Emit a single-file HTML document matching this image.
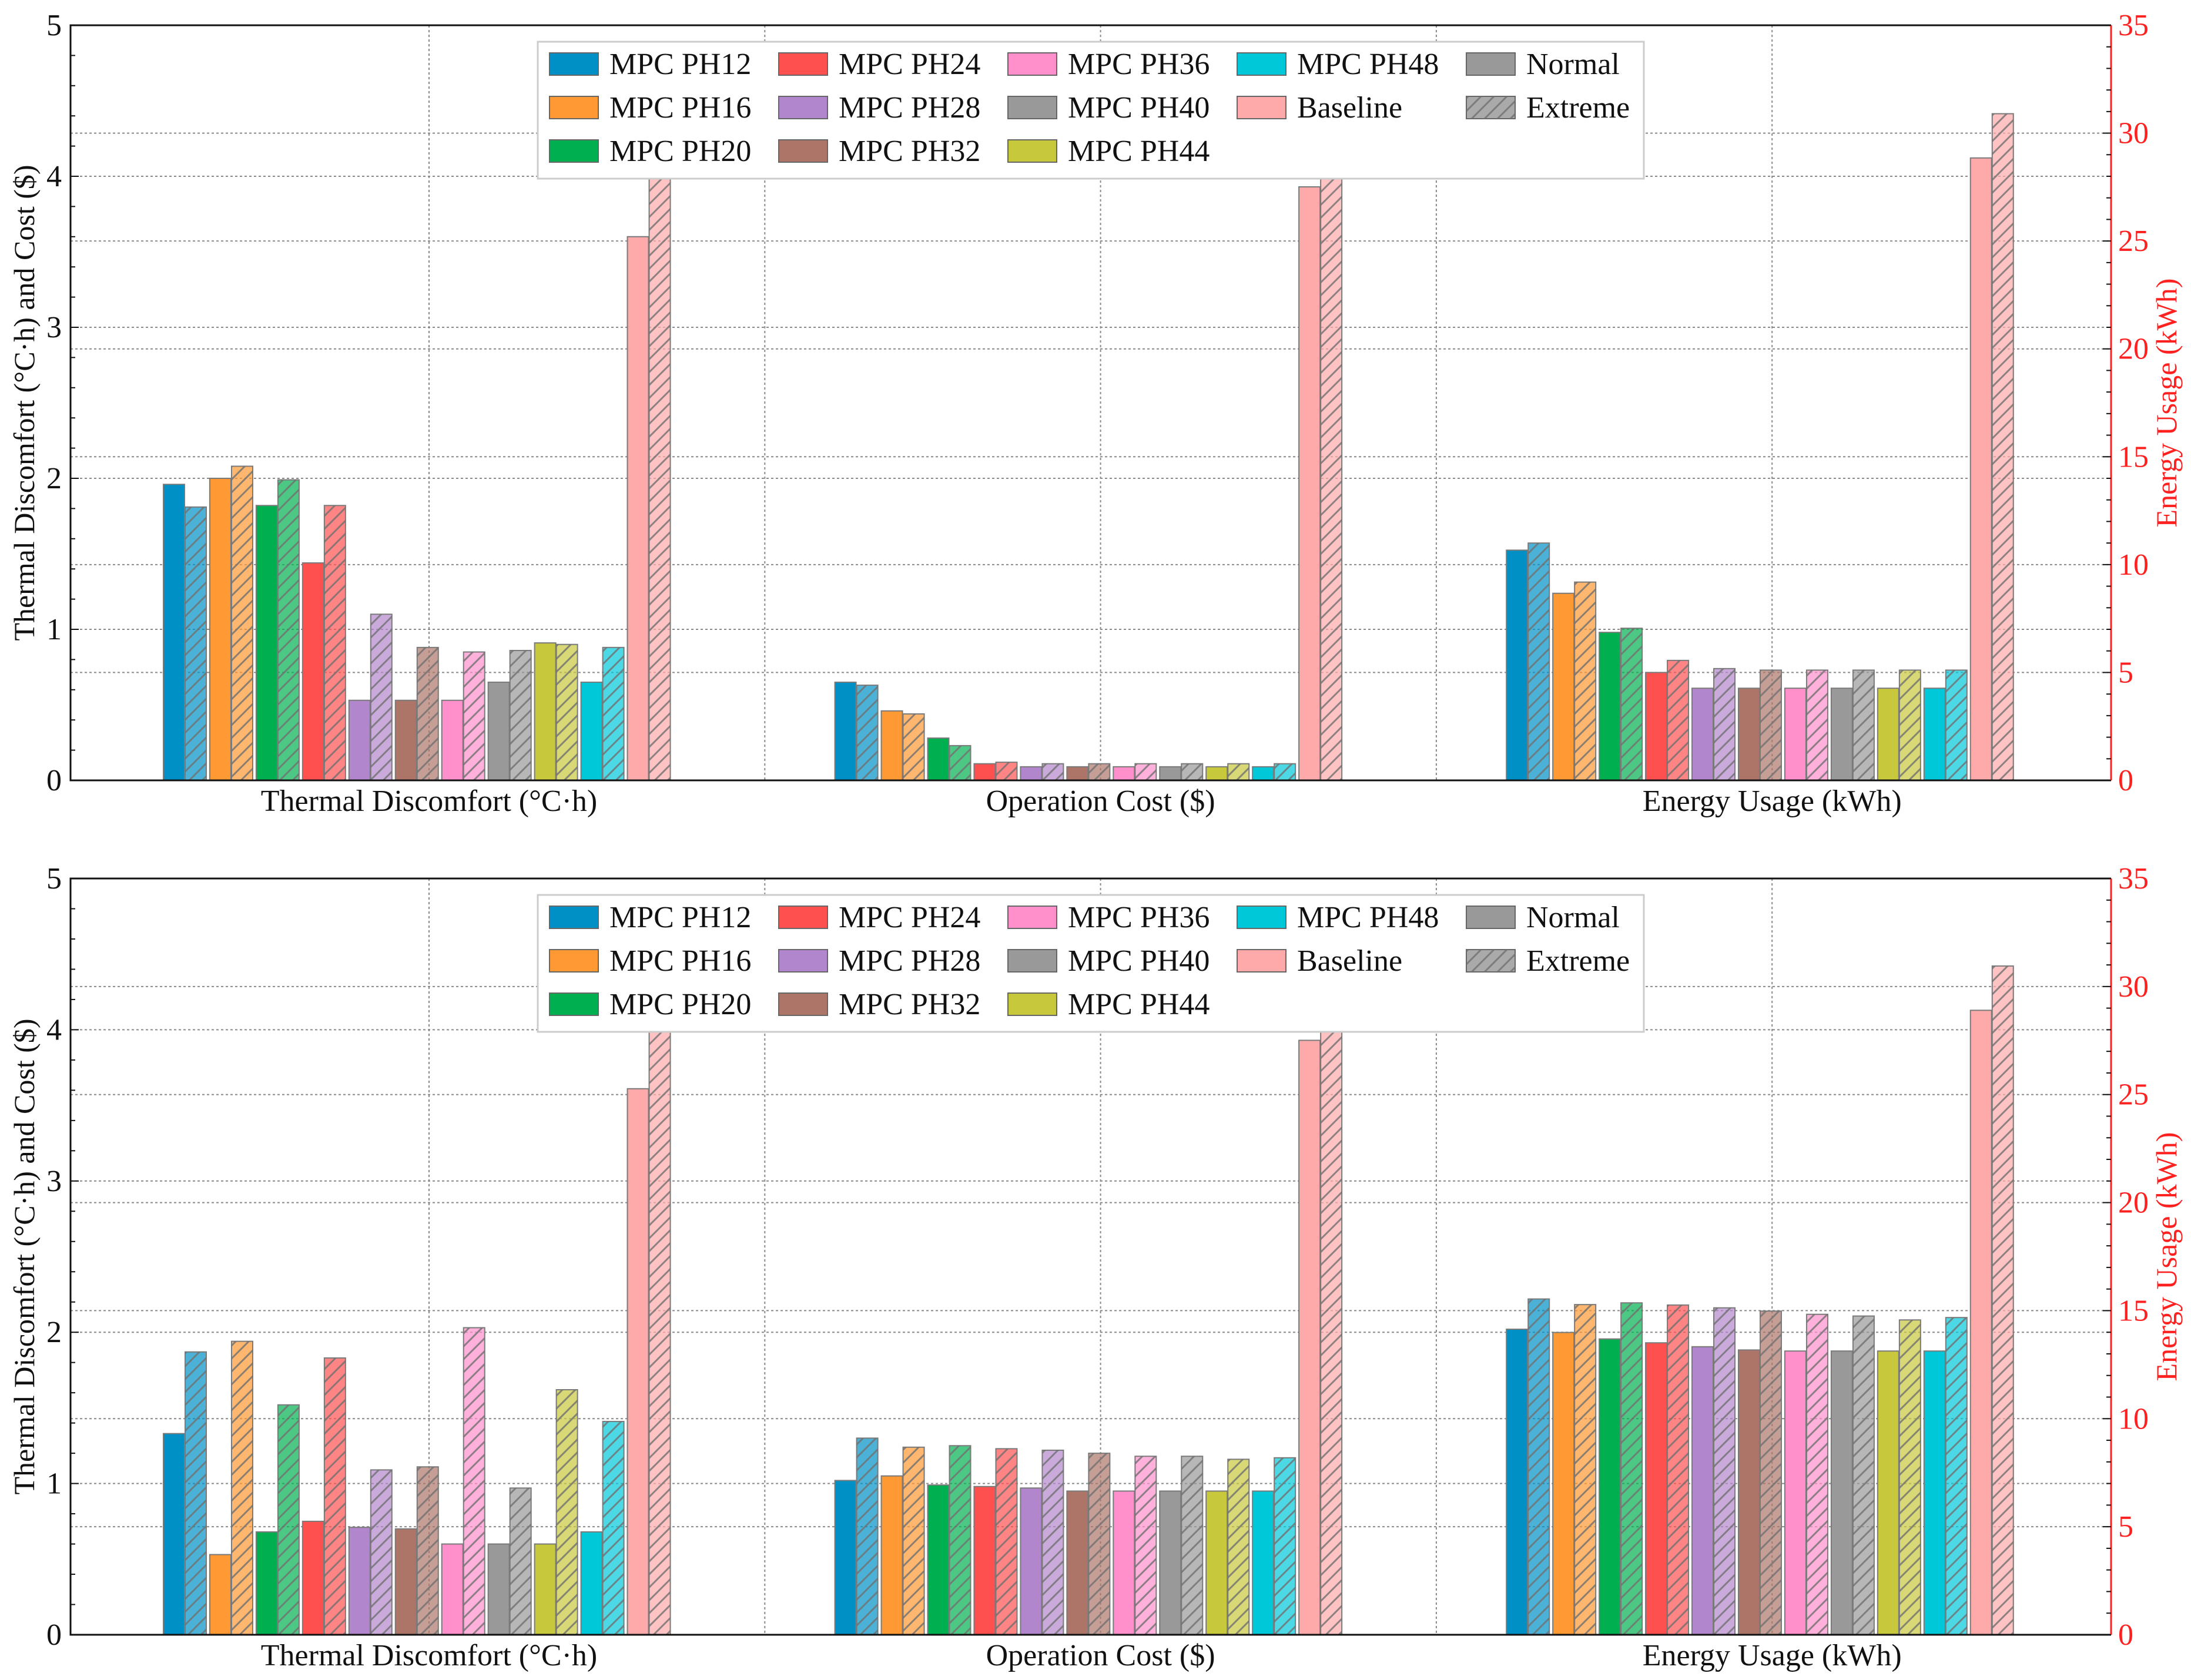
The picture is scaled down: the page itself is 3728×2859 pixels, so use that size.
<!DOCTYPE html>
<html><head><meta charset="utf-8"><style>
html,body{margin:0;padding:0;background:#fff;}
svg{display:block;}
text{font-family:"Liberation Serif","DejaVu Serif",serif;}
</style></head><body>
<svg id="chart" width="3728" height="2859" viewBox="0 0 3728 2859" xmlns="http://www.w3.org/2000/svg" font-family="'Liberation Serif', 'DejaVu Serif', serif">
<defs>
<pattern id="hatch" patternUnits="userSpaceOnUse" width="22" height="22">
<path d="M-5,27 L27,-5 M-16,16 L16,-16 M6,38 L38,6" stroke="#707070" stroke-width="3" opacity="0.8"/>
</pattern>
</defs>
</svg>
<script>
const seriesNames = ["MPC PH12","MPC PH16","MPC PH20","MPC PH24","MPC PH28","MPC PH32","MPC PH36","MPC PH40","MPC PH44","MPC PH48","Baseline"];
const seriesColors = ["#0090c6","#ff9933","#00b050","#ff5050","#b286cc","#ad7568","#ff90cc","#999999","#c8c83c","#00c8d8","#ffaaaa"];
const categories = ["Thermal Discomfort (°C·h)","Operation Cost ($)","Energy Usage (kWh)"];
const leftTicks = [0,1,2,3,4,5];
const rightTicks = [0,5,10,15,20,25,30,35];

// Top panel
const tdNormalTop   = [1.96,2.00,1.82,1.44,0.53,0.53,0.53,0.65,0.91,0.65,3.60];
const tdExtremeTop  = [1.81,2.08,1.99,1.82,1.10,0.88,0.85,0.86,0.90,0.88,4.10];
const costNormalTop = [0.65,0.46,0.28,0.11,0.09,0.09,0.09,0.09,0.09,0.09,3.93];
const costExtremeTop= [0.63,0.44,0.23,0.12,0.11,0.11,0.11,0.11,0.11,0.11,4.10];
const energyNormalTop = [10.67,8.67,6.86,5.00,4.27,4.27,4.27,4.27,4.27,4.27,28.85];
const energyExtremeTop= [11.00,9.19,7.05,5.56,5.18,5.11,5.11,5.11,5.11,5.11,30.90];

// Bottom panel
const tdNormalBot   = [1.33,0.53,0.68,0.75,0.71,0.70,0.60,0.60,0.60,0.68,3.61];
const tdExtremeBot  = [1.87,1.94,1.52,1.83,1.09,1.11,2.03,0.97,1.62,1.41,4.10];
const costNormalBot = [1.02,1.05,0.99,0.98,0.97,0.95,0.95,0.95,0.95,0.95,3.93];
const costExtremeBot= [1.30,1.24,1.25,1.23,1.22,1.20,1.18,1.18,1.16,1.17,4.10];
const energyNormalBot = [14.14,13.99,13.69,13.51,13.33,13.18,13.13,13.13,13.13,13.13,28.90];
const energyExtremeBot= [15.54,15.28,15.36,15.26,15.13,14.98,14.83,14.75,14.57,14.68,30.95];

const NS="http://www.w3.org/2000/svg";
const svg=document.getElementById("chart");
const FF="'Liberation Serif', 'DejaVu Serif', serif";
function mk(tag,attrs,parent){const e=document.createElementNS(NS,tag);for(const k in attrs)e.setAttribute(k,attrs[k]);if(tag==="text")e.setAttribute("font-family",FF);(parent||svg).appendChild(e);return e;}

const X0=120,X1=3592;
function xu(u){return 730+u*1142.6;}

function panel(top,bottom,td,tde,co,coe,en,ene,pname){
  const g=mk("g",{});
  
  
  const H=bottom-top;
  const yL=v=>bottom-v/5*H;
  const yR=v=>bottom-v/35*H;
  for(const t of leftTicks){ if(t===0||t===5)continue;
    const l=mk("line",{x1:X0,x2:X1,y1:yL(t),y2:yL(t),stroke:"#8a8a8a","stroke-width":2,"stroke-dasharray":"4,4"},g);
    
    
  }
  for(const t of rightTicks){ if(t===0||t===35)continue;
    const l=mk("line",{x1:X0,x2:X1,y1:yR(t),y2:yR(t),stroke:"#8a8a8a","stroke-width":2,"stroke-dasharray":"4,4"},g);
    
    
  }
  for(const u of [0,0.5,1,1.5,2]){
    const l=mk("line",{x1:xu(u),x2:xu(u),y1:top,y2:bottom,stroke:"#8a8a8a","stroke-width":2,"stroke-dasharray":"4,4"},g);
    
    
  }
  const groups=[[td,tde,yL],[co,coe,yL],[en,ene,yR]];
  groups.forEach((grp,gi)=>{
    for(let i=0;i<seriesNames.length;i++){
      for(let m=0;m<2;m++){
        const v=grp[m][i];
        const x=xu(gi-0.3956+i*0.0691+(m?0.0324:0));
        const y=grp[2](v);
        const r=mk("rect",{x:x,y:y,width:36,height:bottom-y,fill:seriesColors[i],"fill-opacity":m?0.7:1,stroke:"#7a7a7a","stroke-width":2},g);
        
        
        if(m){
          const h=mk("rect",{x:x,y:y,width:36,height:bottom-y,fill:"url(#hatch)"},g);
          
          
        }
      }
    }
  });
  const f1=mk("path",{d:`M${X1},${top} L${X0},${top} L${X0},${bottom} L${X1},${bottom}`,fill:"none",stroke:"#111","stroke-width":3},g);
  
  
  const f2=mk("line",{x1:X1,x2:X1,y1:top,y2:bottom,stroke:"#ff2020","stroke-width":3},g);
  
  
  for(let v=0;v<=5.001;v+=0.2){
    const maj=Math.abs(v-Math.round(v))<0.01;
    const t=mk("line",{x1:X0,x2:X0+(maj?14:8),y1:yL(v),y2:yL(v),stroke:"#111","stroke-width":2},g);
    
    
  }
  for(let v=0;v<=35;v+=1){
    const maj=v%5===0;
    const t=mk("line",{x1:X1,x2:X1-(maj?14:8),y1:yR(v),y2:yR(v),stroke:"#111","stroke-width":2},g);
    
    
  }
  for(const v of leftTicks){
    const t=mk("text",{x:105,y:yL(v)+17,"font-size":52,"text-anchor":"end",fill:"#111"},g);
    t.textContent=v;
    
    
  }
  for(const v of rightTicks){
    const t=mk("text",{x:3604,y:yR(v)+17,"font-size":52,"text-anchor":"start",fill:"#ff2020"},g);
    t.textContent=v;
    
    
  }
  categories.forEach((c,ci)=>{
    const t=mk("text",{x:xu(ci),y:bottom+52,"font-size":52,"text-anchor":"middle",fill:"#111"},g);
    t.textContent=c;
    
    
  });
  const cy=(top+bottom)/2;
  const yt=mk("text",{x:0,y:0,"font-size":50,"text-anchor":"middle",fill:"#111",transform:`translate(58,${cy}) rotate(-90)`},g);
  yt.textContent="Thermal Discomfort (°C·h) and Cost ($)";
  
  
  const yr=mk("text",{x:0,y:0,"font-size":50,"text-anchor":"middle",fill:"#ff2020",transform:`translate(3703,${cy}) rotate(-90)`},g);
  yr.textContent="Energy Usage (kWh)";
  
  
  const lo=top-43;
  const lg=mk("g",{},g);
  
  
  const box=mk("rect",{x:915,y:71+lo,width:1882,height:233,fill:"#fff",stroke:"#cccccc","stroke-width":3},lg);
  
  
  const entries=seriesNames.map((n,i)=>({n:n,c:seriesColors[i],h:false}));
  entries.push({n:"Normal",c:"#999999",h:false});
  entries.push({n:"Extreme",c:"#aaaaaa",h:true});
  const colX=[935,1325,1715,2105,2495];
  const placement=[[0,0],[0,1],[0,2],[1,0],[1,1],[1,2],[2,0],[2,1],[2,2],[3,0],[3,1],[4,0],[4,1]];
  entries.forEach((e,k)=>{
    const px=colX[placement[k][0]], py=109+placement[k][1]*74+lo;
    const r=mk("rect",{x:px,y:py-19,width:83,height:38,fill:e.c,stroke:"#666","stroke-width":2},lg);
    
    
    if(e.h){
      const h=mk("rect",{x:px,y:py-19,width:83,height:38,fill:"url(#hatch)"},lg);
      
      
    }
    const t=mk("text",{x:px+102,y:py+17,"font-size":52,fill:"#111"},lg);
    t.textContent=e.n;
    
    
  });
}
panel(43,1328,tdNormalTop,tdExtremeTop,costNormalTop,costExtremeTop,energyNormalTop,energyExtremeTop,"top-panel");
panel(1495,2782,tdNormalBot,tdExtremeBot,costNormalBot,costExtremeBot,energyNormalBot,energyExtremeBot,"bottom-panel");
</script>
</body></html>
